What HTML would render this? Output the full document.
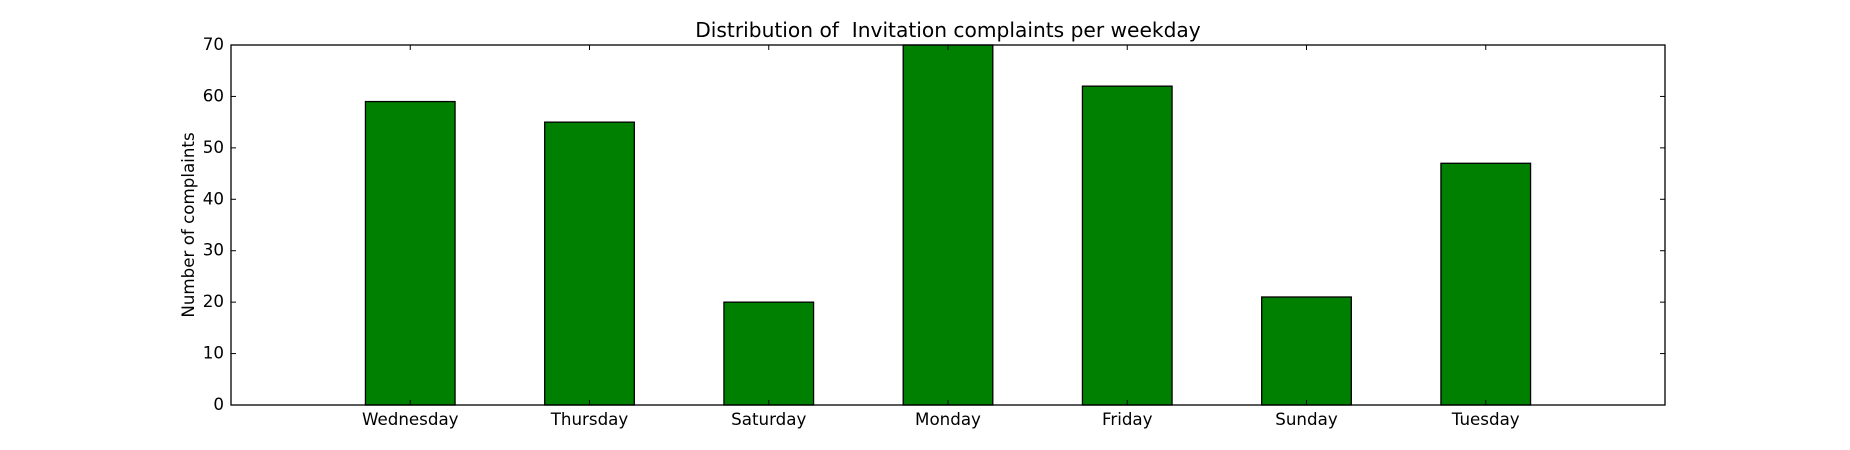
<!DOCTYPE html>
<html><head><meta charset="utf-8"><style>body{margin:0;background:#fff}svg{display:block}text{font-family:"DejaVu Sans","Liberation Sans",sans-serif;fill:#000}</style></head>
<body>
<svg id="chart" width="1850" height="450" xmlns="http://www.w3.org/2000/svg">
<text x="948" y="37" font-size="20.2" text-anchor="middle" xml:space="preserve">Distribution of  Invitation complaints per weekday</text>
<text transform="translate(194,225) rotate(-90)" font-size="16.7" text-anchor="middle">Number of complaints</text>
<g id="marks"></g>
<rect x="231" y="45" width="1434" height="360" fill="none" stroke="#000" stroke-width="1.3"/>
</svg>
<script>
const categories = ["Wednesday","Thursday","Saturday","Monday","Friday","Sunday","Tuesday"];
const values = [59,55,20,70,62,21,47];
const yTicks = [0,10,20,30,40,50,60,70];
const L=231,R=1665,T=45,B=405;
const x = v => L + v*(R-L)/8;
const y = v => B - v*(B-T)/70;
const g=document.getElementById('marks');
const NS='http://www.w3.org/2000/svg';
function mk(t,a){const e=document.createElementNS(NS,t);for(const k in a)e.setAttribute(k,a[k]);g.appendChild(e);return e;}
categories.forEach((c,i)=>{
  const cx=x(i+1), w=x(0.5)-x(0);
  const r=mk('rect',{x:cx-w/2,y:y(values[i]),width:w,height:y(0)-y(values[i]),fill:'#008000',stroke:'#000','stroke-width':1.3});
  
  
  mk('line',{x1:cx,x2:cx,y1:B,y2:B-5,stroke:'#000'});
  mk('line',{x1:cx,x2:cx,y1:T,y2:T+5,stroke:'#000'});
  const t=mk('text',{x:cx,y:B+20,'font-size':16.7,'text-anchor':'middle'});
  t.textContent=c;
  
  
});
yTicks.forEach(v=>{
  const yy=y(v);
  mk('line',{x1:L,x2:L+5,y1:yy,y2:yy,stroke:'#000'});
  mk('line',{x1:R,x2:R-5,y1:yy,y2:yy,stroke:'#000'});
  const t=mk('text',{x:L-7,y:yy+5,'font-size':16.7,'text-anchor':'end'});
  t.textContent=v;
  
  
});
</script>
</body></html>
